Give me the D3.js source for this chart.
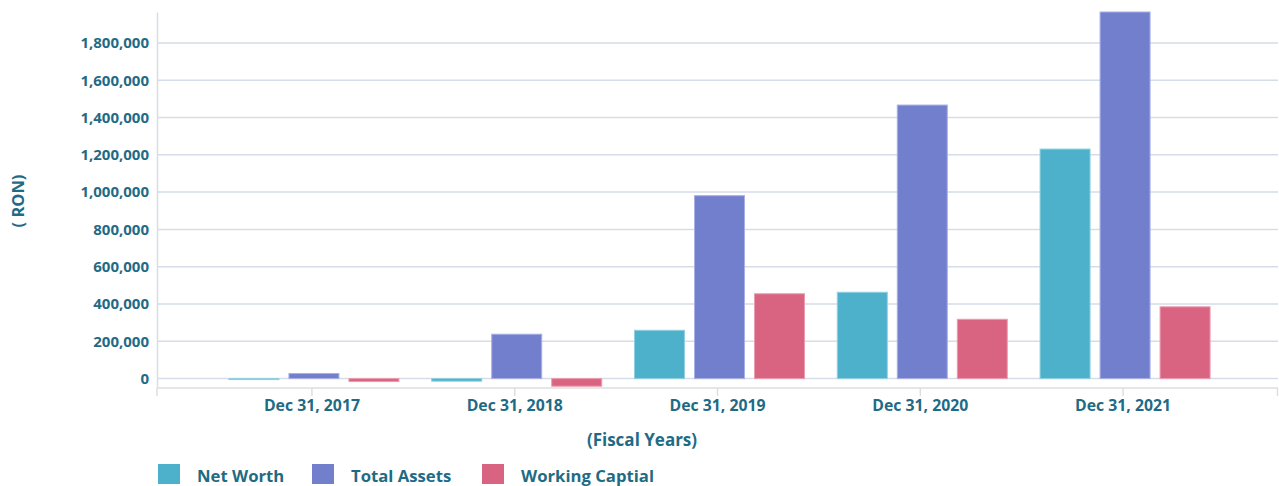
<!DOCTYPE html>
<html>
<head>
<meta charset="utf-8">
<script src="https://cdn.jsdelivr.net/npm/d3@7"></script>
<style>
  body { margin: 0; background: #fff; }
  #graphicContainer { width: 1279px; height: 486px; }
  text { font-family: "Open Sans", sans-serif; font-weight: 700; fill: #1f6b85; }
</style>
</head>
<body>
<div id="graphicContainer"></div>
<script>
const years = ['Dec 31, 2017', 'Dec 31, 2018', 'Dec 31, 2019', 'Dec 31, 2020', 'Dec 31, 2021'];
const seriesNames = ['Net Worth', 'Total Assets', 'Working Captial'];
const netWorth = [-3000, -14000, 259000, 463000, 1231000];
const totalAssets = [27000, 238000, 981000, 1467000, 1966000];
const workingCapital = [-16000, -41000, 455000, 318000, 385000];
const yTicks = [0, 200000, 400000, 600000, 800000, 1000000, 1200000, 1400000, 1600000, 1800000];

const colors = ['#4eb1cb', '#727fcd', '#d96482'];
const strokes = ['#8fd0e0', '#a8b0e6', '#ec9cb0'];

const Width = 1279, Height = 486;
const Margin = { t: 12, r: 1, b: 98, l: 157 };
const container = d3.select('#graphicContainer');

const svg = container.append('svg')
  .attr('width', Width)
  .attr('height', Height);

const series = [netWorth, totalAssets, workingCapital];

const x = d3.scaleBand()
  .domain(years)
  .range([Margin.l, Width - Margin.r])
  .paddingOuter(0.264)
  .paddingInner(0);

// groups of 3 bars, 50px wide with 10px gaps, sitting about centred in each band
const groupW = 170, groupShift = 2;
const xInner = d3.scaleBand()
  .domain(seriesNames)
  .range([(x.bandwidth() - groupW) / 2 + groupShift, (x.bandwidth() + groupW) / 2 + groupShift])
  .paddingInner(1 / 6)
  .paddingOuter(0);

const y = d3.scaleLinear()
  .domain([-50500, 1966000])
  .range([Height - Margin.b, Margin.t]);

// grid
svg.append('g')
  .attr('class', 'grid')
  .selectAll('line')
  .data(yTicks)
  .enter()
  .append('line')
  .attr('x1', Margin.l)
  .attr('x2', Width - Margin.r)
  .attr('y1', d => y(d))
  .attr('y2', d => y(d))
  .attr('stroke', '#d5dde7')
  .attr('stroke-width', 1.5);

// y axis
const yAxis = svg.append('g')
  .attr('class', 'yAxis')
  .attr('transform', `translate(${Margin.l},0)`)
  .call(d3.axisLeft(y).tickValues(yTicks).tickSize(0).tickPadding(8).tickFormat(d3.format(',')));
yAxis.select('.domain').attr('stroke', '#d5dde7').attr('stroke-width', 1.5);
yAxis.selectAll('text').style('font-size', '15px');

// bottom axis
const baseY = Height - Margin.b;
const xAxisG = svg.append('g').attr('class', 'xAxis');
xAxisG.append('line')
  .attr('x1', Margin.l).attr('x2', Width - Margin.r)
  .attr('y1', baseY).attr('y2', baseY)
  .attr('stroke', '#dedede').attr('stroke-width', 1.5);
const tickXs = [Margin.l].concat(years.map(d => x(d) + x.bandwidth() / 2)).concat([Width - Margin.r - 0.5]);
xAxisG.selectAll('.tick')
  .data(tickXs)
  .enter()
  .append('line')
  .attr('class', 'tick')
  .attr('x1', d => d).attr('x2', d => d)
  .attr('y1', baseY).attr('y2', baseY + 8)
  .attr('stroke', '#dedede').attr('stroke-width', 1.5);
xAxisG.selectAll('.label')
  .data(years)
  .enter()
  .append('text')
  .attr('class', 'label')
  .attr('x', d => x(d) + x.bandwidth() / 2)
  .attr('y', baseY + 23)
  .attr('text-anchor', 'middle')
  .style('font-size', '15.8px')
  .text(d => d);

// bars
const groups = svg.append('g')
  .attr('class', 'bars')
  .selectAll('g')
  .data(years)
  .enter()
  .append('g')
  .attr('transform', d => `translate(${x(d)},0)`);

groups.selectAll('rect')
  .data((d, i) => seriesNames.map((s, j) => ({ s, j, v: series[j][i] })))
  .enter()
  .append('rect')
  .attr('x', d => xInner(d.s))
  .attr('width', xInner.bandwidth())
  .attr('y', d => y(Math.max(0, d.v)))
  .attr('height', d => Math.max(1, Math.abs(y(d.v) - y(0))))
  .attr('fill', d => colors[d.j])
  .attr('stroke', d => strokes[d.j])
  .attr('stroke-width', 1);

// axis titles
svg.append('text')
  .attr('transform', `translate(24,${(Margin.t + baseY) / 2 + 1}) rotate(-90)`)
  .attr('text-anchor', 'middle')
  .style('font-size', '16.5px')
  .text('( RON)');

svg.append('text')
  .attr('x', 642)
  .attr('y', 446)
  .attr('text-anchor', 'middle')
  .style('font-size', '17px')
  .text('(Fiscal Years)');

// legend
const legendX = [158, 312, 482];
const legend = svg.append('g')
  .attr('class', 'legend')
  .selectAll('g')
  .data(seriesNames)
  .enter()
  .append('g')
  .attr('transform', (d, i) => `translate(${legendX[i]},464)`);
legend.append('rect')
  .attr('width', 22)
  .attr('height', 20)
  .attr('fill', (d, i) => colors[i]);
legend.append('text')
  .attr('x', 39)
  .attr('y', 18)
  .style('font-size', '16.7px')
  .text(d => d);
</script>
</body>
</html>
